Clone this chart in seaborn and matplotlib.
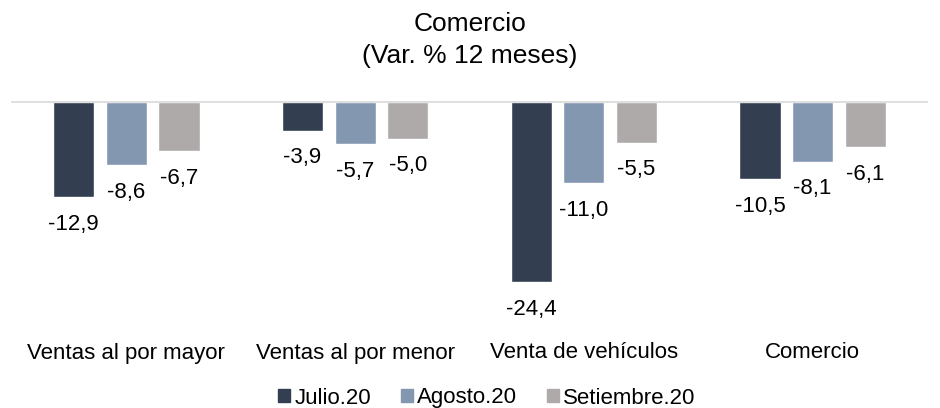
import matplotlib
matplotlib.use("Agg")
import matplotlib.pyplot as plt
import seaborn as sns
import pandas as pd

categories = ["Ventas al por mayor", "Ventas al por menor", "Venta de vehículos", "Comercio"]
series_names = ["Julio.20", "Agosto.20", "Setiembre.20"]
julio = [-12.9, -3.9, -24.4, -10.5]
agosto = [-8.6, -5.7, -11.0, -8.1]
setiembre = [-6.7, -5.0, -5.5, -6.1]
colors = ["#333F50", "#8497B0", "#AEAAAA"]

rows = []
for name, vals in zip(series_names, [julio, agosto, setiembre]):
    for c, v in zip(categories, vals):
        rows.append({"cat": c, "serie": name, "val": v})
df = pd.DataFrame(rows)

sns.set_theme(style="white")
plt.rcParams["font.family"] = ["Liberation Sans", "DejaVu Sans"]
plt.rcParams["text.color"] = "#000000"
FS = 16

fig = plt.figure(figsize=(9.4, 4.08), dpi=100)
ax = fig.add_axes([12/940, (408-330)/408, 915/940, (330-102)/408])

sns.barplot(data=df, x="cat", y="val", hue="serie", order=categories,
            hue_order=series_names, palette=colors, width=0.69, gap=0.22,
            saturation=1, ax=ax, legend=True, errorbar=None)

ax.set_ylim(-30.9, 0)
ax.set_xlim(-0.5, 3.5)
for s in ["left", "right", "bottom"]:
    ax.spines[s].set_visible(False)
ax.spines["top"].set_visible(True)
ax.spines["top"].set_color("#D9D9D9")
ax.spines["top"].set_linewidth(1.2)
ax.set_yticks([])
ax.set_xlabel("")
ax.set_ylabel("")
ax.tick_params(axis="x", length=0, pad=9, labelsize=FS, labelcolor="#000000")

for cont in ax.containers:
    for bar in cont:
        h = bar.get_height()
        x = bar.get_x() + bar.get_width() / 2
        ax.annotate(f"{h:.1f}".replace(".", ","), xy=(x, h), xytext=(0, -19.5),
                    textcoords="offset points", ha="center", va="center",
                    fontsize=FS, color="#000000", annotation_clip=False)

ax.legend_.remove()
handles = [plt.Rectangle((0, 0), 1, 1, color=c) for c in colors]
fig.legend(handles, series_names, loc="center", bbox_to_anchor=(487/940, 10/408),
           ncol=3, frameon=False, fontsize=FS, handlelength=0.55, handleheight=0.55,
           handletextpad=0.18, columnspacing=1.35, borderaxespad=0, borderpad=0,
           labelcolor="#000000")

fig.text(0.5, 1 - 24/408, "Comercio", ha="center", va="center", fontsize=19, color="#000000")
fig.text(0.5, 1 - 56/408, "(Var. % 12 meses)", ha="center", va="center", fontsize=19, color="#000000")

fig.savefig("out.png", dpi=100)
